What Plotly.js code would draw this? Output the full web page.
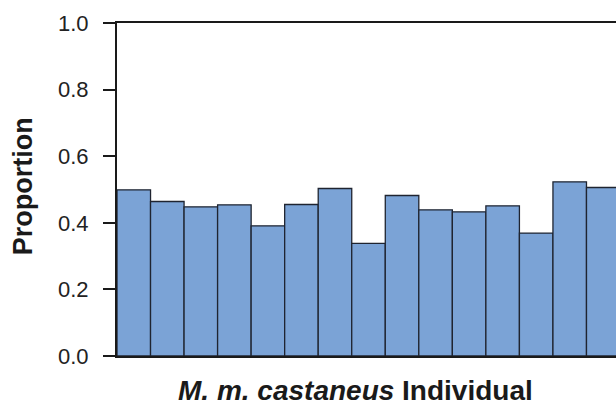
<!DOCTYPE html>
<html>
<head>
<meta charset="utf-8">
<script src="https://cdn.plot.ly/plotly-3.0.1.min.js"></script>
<style>html,body{margin:0;padding:0;background:#fff;}#chart{width:616px;height:408px;}</style>
</head>
<body>
<div id="chart"></div>
<script>
var individuals = ['1','2','3','4','5','6','7','8','9','10','11','12','13','14','15'];
var proportions = [0.499, 0.464, 0.448, 0.454, 0.391, 0.455, 0.503, 0.338, 0.482, 0.439, 0.433, 0.451, 0.369, 0.523, 0.506];
var yTickVals = [0, 0.2, 0.4, 0.6, 0.8, 1.0];
var yTickText = ['0.0', '0.2', '0.4', '0.6', '0.8', '1.0'];

var trace = {
  type: 'bar',
  x: individuals,
  y: proportions,
  width: 1,
  marker: {color: '#7ba3d6', line: {color: '#1f2430', width: 1.3}},
  hoverinfo: 'skip'
};

var layout = {
  width: 616, height: 408,
  margin: {l: 117, r: 0, t: 23, b: 52, pad: 0},
  paper_bgcolor: '#ffffff', plot_bgcolor: '#ffffff',
  showlegend: false,
  bargap: 0,
  font: {family: 'Liberation Sans, Arial, sans-serif', color: '#1a1a1a'},
  xaxis: {
    type: 'category',
    range: [-0.5, 14.38],
    showline: true, linecolor: '#1a1a1a', linewidth: 2, mirror: true,
    ticks: '', showticklabels: false, showgrid: false, zeroline: false, fixedrange: true
  },
  yaxis: {
    range: [0, 1],
    tickvals: yTickVals, ticktext: yTickText,
    ticks: 'outside', ticklen: 12, tickwidth: 2, tickcolor: '#1a1a1a',
    ticklabelstandoff: 10,
    showline: true, linecolor: '#1a1a1a', linewidth: 2, mirror: false,
    showgrid: false, zeroline: false,
    tickfont: {size: 22, color: '#222222', family: 'Liberation Sans, Arial, sans-serif'},
    fixedrange: true
  },
  annotations: [
    {
      text: '<b>Proportion</b>', textangle: -90,
      xref: 'paper', yref: 'paper', x: -0.188, y: 0.51,
      xanchor: 'center', yanchor: 'middle', showarrow: false,
      font: {size: 27, color: '#1a1a1a', family: 'Liberation Sans, Arial, sans-serif'}
    },
    {
      text: '<b><i>M. m. castaneus</i> Individual</b>',
      xref: 'paper', yref: 'paper', x: 0.477, y: -0.156,
      xanchor: 'center', yanchor: 'bottom', showarrow: false,
      font: {size: 28, color: '#1a1a1a', family: 'Liberation Sans, Arial, sans-serif'}
    }
  ]
};

Plotly.newPlot('chart', [trace], layout, {displayModeBar: false, staticPlot: true});
</script>
</body>
</html>
